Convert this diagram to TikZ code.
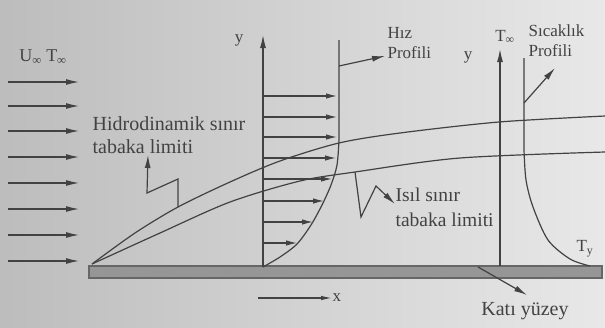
\documentclass[tikz,border=0pt]{standalone}
\usepackage{fontspec}
\setmainfont{Liberation Serif}
\usepackage{xcolor}
\usepackage{tikz}
\usetikzlibrary{arrows.meta, positioning, calc}
\definecolor{inkGray}{RGB}{66,66,66}
\definecolor{plateGray}{RGB}{150,150,150}

\begin{document}
\begin{tikzpicture}[x=1pt, y=-1pt, line width=1.2pt, draw=inkGray,
    flow/.style={draw=inkGray, -{Latex[length=13pt,width=6pt]}},
    lbl/.style={text=inkGray, inner sep=0pt, align=left, font=\fontsize{17}{20}\selectfont},
    biglbl/.style={text=inkGray, inner sep=0pt, align=left, font=\fontsize{20}{23}\selectfont}]
    % arka plan
    \shade[left color=black!26, right color=black!9] (0,0) rectangle (605,327);
    \useasboundingbox (0,0) rectangle (605,327);

    % levha
    \draw[fill=plateGray, draw=black!60] (89,266) rectangle (602,278);

    % serbest akis
    \foreach \yy in {82,106,131,157,183,209,235,261}
        \draw[flow] (8,\yy) -- (79,\yy);
    \node[lbl, font=\fontsize{18}{20}\selectfont] (uinf) at (43,57) {U\textsubscript{∞} T\textsubscript{∞}};

    % sinir tabaka egrileri
    \draw[inkGray] plot[smooth] coordinates {(92,264) (135,233) (178,207) (230,182) (280,161) (339,143) (400,133) (499,122) (605,116)};
    \draw[inkGray] plot[smooth] coordinates {(92,264) (160,233) (230,202) (300,181) (355,172) (460,158) (605,152)};

    % hiz profili
    \coordinate (vorig) at (263,267);
    \coordinate (vtop) at (263,35);
    \draw[flow] (vorig) -- (vtop);
    \node[lbl] (vy) at (239,40) {y};
    \draw[inkGray] (339,40) -- (339,140) plot[smooth] coordinates {(339,140) (337,165) (331,185) (322,205) (311,225) (297,244) (280,257) (263,267)};
    \foreach \yy/\xx in {96/337,117/337,137/337,158/336,179/332,201/324,222/313,243/297}
        \draw[flow, -{Latex[length=11pt,width=5.5pt]}] (263,\yy) -- (\xx,\yy);
    \node[lbl, anchor=north west] (hizlbl) at (387,27) {Hız\\Profili};
    \coordinate (hizfrom) at (339,66);
    \coordinate (hizto) at (385,56);
    \draw[flow] (hizfrom) -- (hizto);

    % x ekseni
    \coordinate (xfrom) at (258,298);
    \coordinate (xto) at (332,298);
    \draw[flow, -{Latex[length=11pt,width=4.5pt]}] (xfrom) -- (xto);
    \node[lbl, anchor=west] (xlbl) at (xto) {x};

    % sicaklik profili
    \coordinate (torig) at (500,266);
    \coordinate (ttop) at (500,49);
    \draw[flow] (torig) -- (ttop);
    \node[lbl] (tinf) at (505,37) {T\textsubscript{∞}};
    \node[lbl] (ty) at (468,57) {y};
    \draw[inkGray] (524,58) -- (524,150) plot[smooth] coordinates {(524,150) (526,180) (533,207) (548,240) (570,259) (590,266)};
    \node[lbl] (tylbl) at (585,249) {T\textsubscript{y}};
    \node[lbl, anchor=north west] (siclbl) at (528,24) {Sıcaklık\\Profili};
    \coordinate (sicfrom) at (524,103);
    \coordinate (sicto) at (555,68);
    \draw[flow] (sicfrom) -- (sicto);

    % hidrodinamik sinir tabaka
    \node[biglbl, anchor=north west] (hidlbl) at (92,116) {Hidrodinamik sınır\\tabaka limiti};
    \coordinate (hidfrom) at (178,207);
    \coordinate (hidto) at (148,155);
    \draw[flow] (hidfrom) -- (178,179) -- (147,193) -- (hidto);

    % isil sinir tabaka
    \node[biglbl, anchor=north west, font=\fontsize{19.5}{25}\selectfont] (isillbl) at (395,187) {Isıl sınır\\tabaka limiti};
    \coordinate (isfrom) at (355,172);
    \coordinate (isto) at (395,204);
    \draw[flow] (isfrom) -- (361,217) -- (376,186) -- (isto);

    % kati yuzey
    \node[biglbl, anchor=north] (katilbl) at (525,302) {Katı yüzey};
    \coordinate (katifrom) at (478,267);
    \coordinate (katito) at (527,295);
    \draw[flow] (katifrom) -- (katito);
\end{tikzpicture}
\end{document}
